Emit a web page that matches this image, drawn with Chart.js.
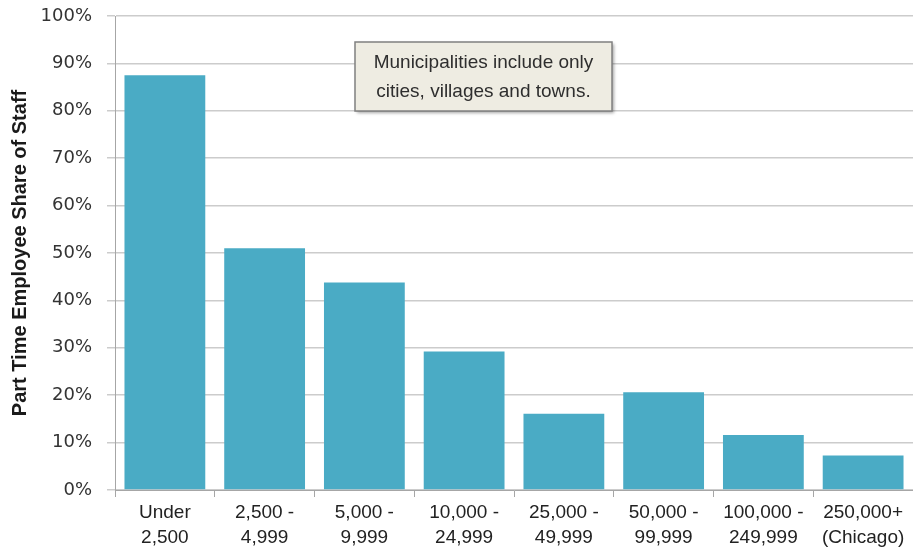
<!DOCTYPE html>
<html>
<head>
<meta charset="utf-8">
<script src="https://cdn.jsdelivr.net/npm/chart.js@4/dist/chart.umd.min.js"></script>
<style>
  html, body { margin: 0; padding: 0; background: #fff; }
  #wrap { width: 913px; height: 557px; }
</style>
</head>
<body>
<div id="wrap"><canvas id="chart" width="913" height="557"></canvas></div>
<script>
// population groups (x categories)
const categories = [
    ['Under', '2,500'],
    ['2,500 -', '4,999'],
    ['5,000 -', '9,999'],
    ['10,000 -', '24,999'],
    ['25,000 -', '49,999'],
    ['50,000 -', '99,999'],
    ['100,000 -', '249,999'],
    ['250,000+', '(Chicago)']
];
// part time share of staff, in percent
const partTimeShare = [87.5, 51, 43.8, 29.2, 16.1, 20.6, 11.6, 7.3];
const yTicks = [0, 10, 20, 30, 40, 50, 60, 70, 80, 90, 100];
const yTitle = 'Part Time Employee Share of Staff';
const noteLines = ['Municipalities include only', 'cities, villages and towns.'];

// note box drawn over the plot
const notePlugin = {
    id: 'noteBox',
    afterDatasetsDraw(chart) {
        const ctx = chart.ctx;
        const area = chart.chartArea;
        const x = area.left + 240, y = area.top + 26, w = 257, h = 69;
        ctx.save();
        ctx.shadowColor = 'rgba(0,0,0,0.35)';
        ctx.shadowBlur = 3;
        ctx.shadowOffsetX = 2;
        ctx.shadowOffsetY = 2;
        ctx.fillStyle = '#eeece2';
        ctx.fillRect(x, y, w, h);
        ctx.shadowColor = 'transparent';
        ctx.strokeStyle = '#808080';
        ctx.lineWidth = 1.5;
        ctx.strokeRect(x, y, w, h);
        ctx.fillStyle = '#2e2e2e';
        ctx.font = '19px "Liberation Sans", Arial, sans-serif';
        ctx.textAlign = 'center';
        ctx.textBaseline = 'middle';
        noteLines.forEach((line, i) => {
            ctx.fillText(line, x + w / 2, y + 21 + i * 29);
        });
        ctx.restore();
    }
};

const ctx = document.getElementById('chart').getContext('2d');
new Chart(ctx, {
    type: 'bar',
    data: {
        labels: categories,
        datasets: [{
            data: partTimeShare,
            backgroundColor: '#4aabc5',
            borderWidth: 0,
            barPercentage: 0.81,
            categoryPercentage: 1
        }]
    },
    options: {
        responsive: false,
        animation: false,
        layout: { padding: { top: 16, right: 0, left: 0, bottom: 0 } },
        plugins: {
            legend: { display: false },
            tooltip: { enabled: false }
        },
        scales: {
            x: {
                grid: { display: true, drawOnChartArea: false, drawTicks: true, tickLength: 7, color: '#a6a6a6', offset: true },
                border: { color: '#a6a6a6' },
                ticks: {
                    color: '#222',
                    padding: 3,
                    maxRotation: 0,
                    autoSkip: false,
                    font: { family: '"Liberation Sans", Arial, sans-serif', size: 19, lineHeight: 25 / 19 }
                },
                afterFit: (s) => { s.height = 67; s.paddingLeft = 0; s.paddingRight = 0; }
            },
            y: {
                min: 0,
                max: 100,
                afterBuildTicks: (s) => { s.ticks = yTicks.map(v => ({ value: v })); },
                grid: { color: '#cccccc', tickLength: 8, lineWidth: 1.5 },
                border: { color: '#a6a6a6' },
                ticks: {
                    color: '#333',
                    padding: 15,
                    font: { family: '"DejaVu Sans", sans-serif', size: 18 },
                    callback: (v) => v + '%'
                },
                title: {
                    display: true,
                    text: yTitle,
                    color: '#1a1a1a',
                    padding: { top: 8, bottom: 0 },
                    font: { family: '"Liberation Sans", Arial, sans-serif', size: 20, weight: 'bold' }
                },
                afterFit: (s) => { s.width = 115; s.paddingTop = 0; s.paddingBottom = 0; }
            }
        }
    },
    plugins: [notePlugin]
});
</script>
</body>
</html>
